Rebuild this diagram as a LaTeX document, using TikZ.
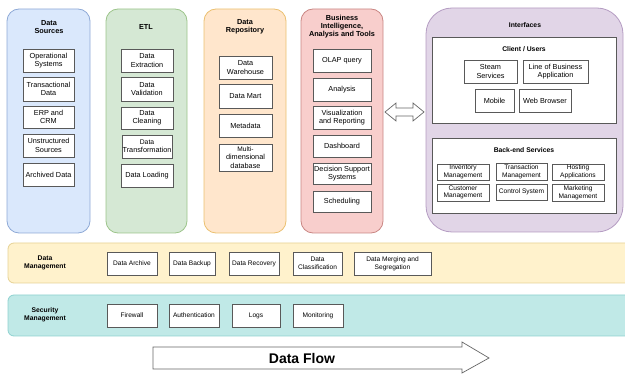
\documentclass[tikz,border=0pt]{standalone}
\usepackage{fontspec}
\setmainfont{Liberation Sans}
\usetikzlibrary{calc}
\definecolor{dsF}{HTML}{DAE8FC}\definecolor{dsD}{HTML}{8EA9D6}
\definecolor{etF}{HTML}{D5E8D4}\definecolor{etD}{HTML}{9CC48A}
\definecolor{drF}{HTML}{FFE6CC}\definecolor{drD}{HTML}{EBC070}
\definecolor{biF}{HTML}{F8CECC}\definecolor{biD}{HTML}{C98683}
\definecolor{ifF}{HTML}{E1D5E7}\definecolor{ifD}{HTML}{B49CC2}
\definecolor{dmF}{HTML}{FFF2CC}\definecolor{dmD}{HTML}{E6D294}
\definecolor{smF}{HTML}{C0E9E7}\definecolor{smD}{HTML}{8ED2D0}
\tikzset{
  box/.style={draw=black!65, fill=white, line width=0.7pt, align=center, inner sep=0pt,
    font=\fontsize{7.3}{8.3}\selectfont},
  panel/.style={line width=0.8pt, rounded corners=12pt},
  ptitle/.style={align=center, font=\bfseries\fontsize{7.3}{8}\selectfont},
  btitle/.style={align=center, font=\bfseries\fontsize{6.8}{7.6}\selectfont},
  arrowshape/.style={draw=black!60, fill=white, line width=0.7pt, line join=miter},
}
\newcommand{\mybox}[6]{\node[box, minimum width={(#4)-(#2)}, minimum height={(#5)-(#3)}] (#1) at ({((#2)+(#4))/2},{((#3)+(#5))/2}) {#6};}
\newcommand{\mypanel}[6]{\node[panel, minimum width={(#4)-(#2)}, minimum height={(#5)-(#3)}, #6] (#1) at ({((#2)+(#4))/2},{((#3)+(#5))/2}) {};}
\begin{document}
\begin{tikzpicture}[x=1pt,y=-1pt]
\useasboundingbox (0,0) rectangle (625,377);
% panels
\mypanel{dsP}{7}{9}{90}{233}{draw=dsD, fill=dsF}
\mypanel{etP}{106}{9}{187}{233}{draw=etD, fill=etF}
\mypanel{drP}{204}{9}{286}{233}{draw=drD, fill=drF}
\mypanel{biP}{301}{9}{383}{233}{draw=biD, fill=biF}
\mypanel{ifP}{426}{8}{623}{232}{draw=ifD, fill=ifF, rounded corners=26pt}
% titles
\node[ptitle] (dsT) at (49,27) {Data\\Sources};
\node[ptitle] (etT) at (146,27) {ETL};
\node[ptitle] (drT) at (245,27) {Data\\Repository};
\node[ptitle] (biT) at (342,27) {Business\\Intelligence,\\Analysis and Tools};
\node[btitle] (ifT) at (525,25) {Interfaces};
% data sources
\mybox{ds1}{23}{49}{74}{72}{Operational\\Systems}
\mybox{ds2}{23}{77}{74}{101}{Transactional\\Data}
\mybox{ds3}{23}{106}{74}{128}{ERP and\\CRM}
\mybox{ds4}{23}{134}{74}{157}{Unstructured\\Sources}
\mybox{ds5}{23}{163}{74}{186}{Archived Data}
% ETL
\mybox{et1}{121}{49}{173}{72}{Data\\Extraction}
\mybox{et2}{121}{77}{173}{101}{Data\\Validation}
\mybox{et3}{121}{107}{173}{129}{Data\\Cleaning}
\mybox{et4}{122}{135}{172}{158}{\fontsize{6.8}{7.8}\selectfont Data\\Transformation}
\mybox{et5}{121}{164}{173}{187}{Data Loading}
% repository
\mybox{dr1}{219}{56}{272}{79}{Data\\Warehouse}
\mybox{dr2}{219}{84}{272}{108}{Data Mart}
\mybox{dr3}{219}{114}{272}{137}{Metadata}
\mybox{dr4}{219}{144}{272}{171}{\fontsize{6.6}{7.4}\selectfont Multi-\\dimensional\\database}
% BI
\mybox{bi1}{313}{49}{371}{72}{OLAP query}
\mybox{bi2}{313}{78}{371}{101}{Analysis}
\mybox{bi3}{313}{106}{371}{129}{Visualization\\and Reporting}
\mybox{bi4}{313}{135}{371}{157}{Dashboard}
\mybox{bi5}{313}{163}{371}{184}{Decision Support\\Systems}
\mybox{bi6}{313}{191}{371}{212}{Scheduling}
% interfaces
\mybox{cu}{432}{37}{616}{123}{}
\node[btitle] (cuT) at (524,49) {Client / Users};
\mybox{cu1}{464}{60}{517}{83}{Steam\\Services}
\mybox{cu2}{523}{60}{588}{83}{Line of Business\\Application}
\mybox{cu3}{475}{89}{514}{112}{Mobile}
\mybox{cu4}{519}{89}{571}{112}{Web Browser}
\mybox{be}{432}{138}{616}{213}{}
\node[btitle] (beT) at (524,150) {Back-end Services};
\tikzset{box/.append style={font=\fontsize{6.6}{7.7}\selectfont}}
\mybox{be1}{437}{164}{489}{180}{Inventory\\Management}
\mybox{be2}{496}{163}{547}{180}{Transaction\\Management}
\mybox{be3}{552}{164}{604}{180}{Hosting\\Applications}
\mybox{be4}{437}{184}{489}{201}{Customer\\Management}
\mybox{be5}{496}{184}{547}{200}{Control System}
\mybox{be6}{552}{184}{604}{201}{Marketing\\Management}
% double arrow
\draw[arrowshape] (385,112) -- (396,103) -- (396,108) -- (413,108) -- (413,103) -- (424,112)
  -- (413,121) -- (413,116) -- (396,116) -- (396,121) -- cycle;
% bands
\mypanel{dmP}{8}{243}{634}{283}{draw=dmD, fill=dmF, rounded corners=6pt}
\mypanel{smP}{8}{295}{634}{336}{draw=smD, fill=smF, rounded corners=6pt}
\node[btitle] (dmT) at (45,263) {Data\\Management};
\node[btitle] (smT) at (45,315) {Security\\Management};
\tikzset{box/.append style={font=\fontsize{6.6}{7.6}\selectfont}}
\mybox{dm1}{107}{252}{157}{275}{Data Archive}
\mybox{dm2}{169}{252}{215}{275}{Data Backup}
\mybox{dm3}{229}{252}{279}{275}{Data Recovery}
\mybox{dm4}{293}{252}{342}{275}{Data\\Classification}
\mybox{dm5}{354}{252}{431}{275}{Data Merging and\\Segregation}
\mybox{sm1}{107}{304}{157}{327}{Firewall}
\mybox{sm2}{169}{304}{219}{327}{Authentication}
\mybox{sm3}{232}{304}{280}{327}{Logs}
\mybox{sm4}{293}{304}{343}{327}{Monitoring}
% data flow arrow
\draw[arrowshape] (153,347) -- (462,347) -- (462,342) -- (489,358) -- (462,373) -- (462,369) -- (153,369) -- cycle;
\node[font=\bfseries\fontsize{14}{16}\selectfont] (df) at (302,358) {Data Flow};
\end{tikzpicture}
\end{document}
